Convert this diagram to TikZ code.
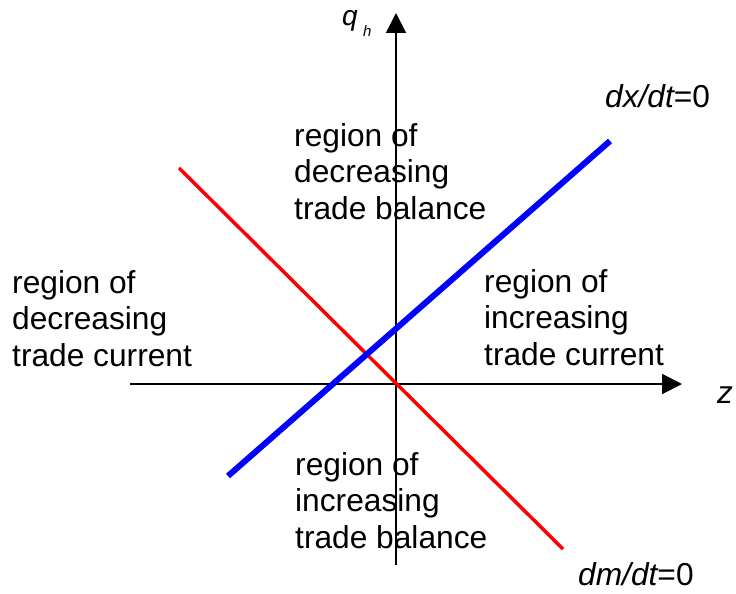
\documentclass[tikz,border=0pt]{standalone}
\usepackage{fontspec}
\setmainfont{Liberation Sans}
\usetikzlibrary{arrows.meta}
\begin{document}
\begin{tikzpicture}[x=1pt,y=-1pt,
  lbl/.style={inner sep=0pt, align=left, anchor=base west, font=\fontsize{31.7}{36.5}\selectfont},
  axisline/.style={line width=2pt, -{Triangle[length=20pt,width=20pt]}},
  redline/.style={draw=red, line width=3.5pt},
  blueline/.style={draw=blue, line width=6pt}]
\useasboundingbox[fill=white] (0,0) rectangle (736,594);
% axes
\coordinate (zs) at (130,384);
\coordinate (ze) at (682,384);
\coordinate (qs) at (396,565);
\coordinate (qe) at (396,13);
\draw[axisline] (zs) -- (ze);
\draw[axisline] (qs) -- (qe);
% lines
\coordinate (r1) at (179,168);
\coordinate (r2) at (563,549);
\coordinate (b1) at (228,476);
\coordinate (b2) at (610,141);
\draw[redline] (r1) -- (r2);
\draw[blueline] (b1) -- (b2);
% region labels (anchored at the baseline of the last line)
\node[lbl] (top) at (294,219) {region of\\decreasing\\trade balance};
\node[lbl] (left) at (12,366) {region of\\decreasing\\trade current};
\node[lbl] (right) at (484,365) {region of\\increasing\\trade current};
\node[lbl] (bottom) at (295,548) {region of\\increasing\\trade balance};
% curve labels
\node[lbl] (dx) at (605,107) {\itshape dx/dt\upshape =0};
\node[lbl] (dm) at (578,585) {\itshape dm/dt\upshape =0};
\node[lbl] (z) at (717,403) {\itshape z};
\node[lbl, font=\fontsize{28}{30}\selectfont\itshape] (q) at (342,26) {q};
\node[lbl, font=\fontsize{15}{18}\selectfont\itshape] (h) at (363,37) {h};
\end{tikzpicture}
\end{document}
